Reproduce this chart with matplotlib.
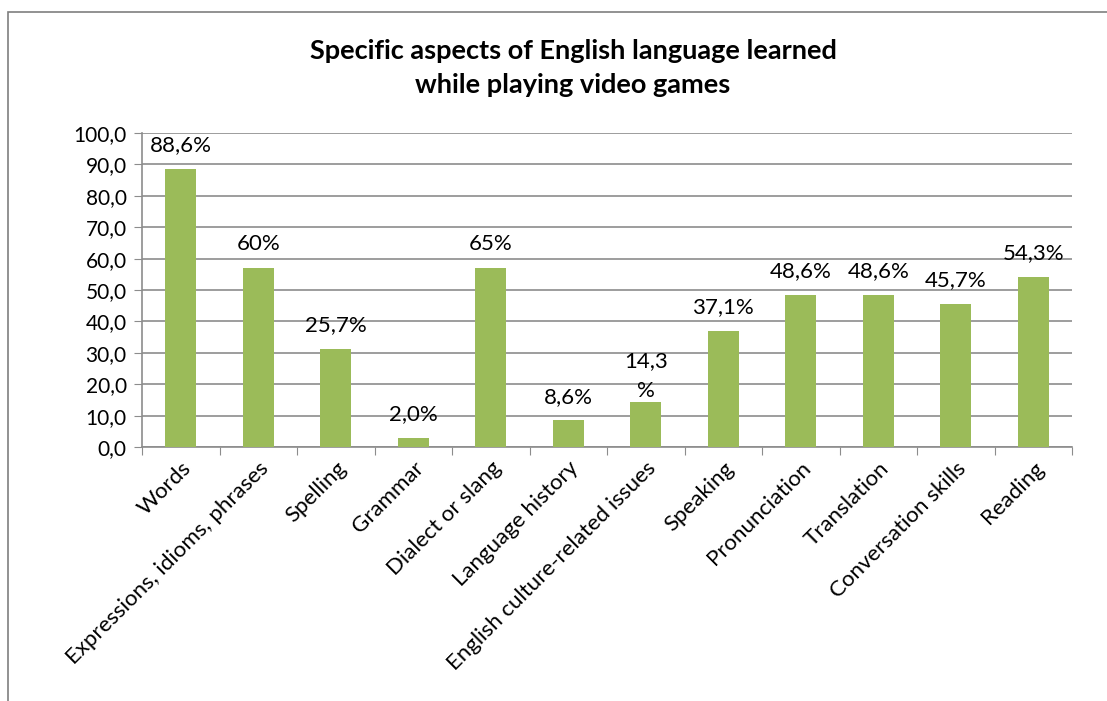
"""
Bar chart: aspects of English learned while playing video games
"""

import numpy as np
import matplotlib
matplotlib.use('Agg')
import matplotlib.pyplot as plt
from matplotlib.patches import Rectangle

plt.rcParams['font.family'] = ['Lato', 'DejaVu Sans']

# data
categories = ['Words', 'Expressions, idioms, phrases', 'Spelling', 'Grammar',
              'Dialect or slang', 'Language history', 'English culture-related issues',
              'Speaking', 'Pronunciation', 'Translation', 'Conversation skills', 'Reading']
heights = [88.6, 57.0, 31.3, 2.9, 57.0, 8.5, 14.2, 37.0, 48.5, 48.5, 45.6, 54.1]
labels = ['88,6%', '60%', '25,7%', '2,0%', '65%', '8,6%', '14,3\n%',
          '37,1%', '48,6%', '48,6%', '45,7%', '54,3%']
yticks = np.arange(0, 101, 10)

W, H = 1107, 701
fig = plt.figure(figsize=(W / 100., H / 100.), dpi=100)

# outer chart border (cropped at right and bottom)
fig.patches.append(Rectangle((8. / W, -0.1), 1.2, 1 - 12. / H + 0.1,
                             transform=fig.transFigure, fill=False,
                             edgecolor='#7f7f7f', linewidth=1.2))

ax = fig.add_axes([142. / W, 1 - 447. / H, (1072. - 142.) / W, (447. - 133.) / H])
x = np.arange(len(categories))
ax.bar(x, heights, width=0.4, color='#9BBB59', zorder=3)

for xi, h, lab in zip(x, heights, labels):
    off = 19 if '\n' in lab else 17
    ax.annotate(lab, (xi, h), xytext=(0, off), textcoords='offset points',
                ha='center', va='center', fontsize=16, linespacing=1.6)

ax.set_xlim(-0.5, len(categories) - 0.5)
ax.set_ylim(0, 100)
ax.set_yticks(yticks)
ax.yaxis.set_major_formatter(matplotlib.ticker.FuncFormatter(
    lambda v, p: ('%.1f' % v).replace('.', ',')))
ax.grid(axis='y', color='#8c8c8c', linewidth=1.2, zorder=0)

# category ticks sit between the bars
ax.set_xticks(np.arange(-0.5, len(categories)), minor=False)
ax.set_xticklabels([])
ax.set_xticks(x, minor=True)
ax.set_xticklabels(categories, minor=True, rotation=45, ha='right',
                   rotation_mode='anchor', fontsize=16)
ax.tick_params(axis='x', which='minor', length=0, pad=8)
ax.tick_params(axis='x', which='major', length=6, color='#8c8c8c', direction='out')
ax.tick_params(axis='y', length=6, color='#8c8c8c', labelsize=15, pad=5)

for s in ['top', 'right']:
    ax.spines[s].set_visible(False)
for s in ['left', 'bottom']:
    ax.spines[s].set_color('#8c8c8c')
    ax.spines[s].set_linewidth(1.2)

fig.text(573. / W, 1 - 68. / H,
         'Specific aspects of English language learned\nwhile playing video games',
         ha='center', va='center', fontsize=19.5, fontweight='bold', linespacing=1.5)

plt.savefig('out.png', format='png')
